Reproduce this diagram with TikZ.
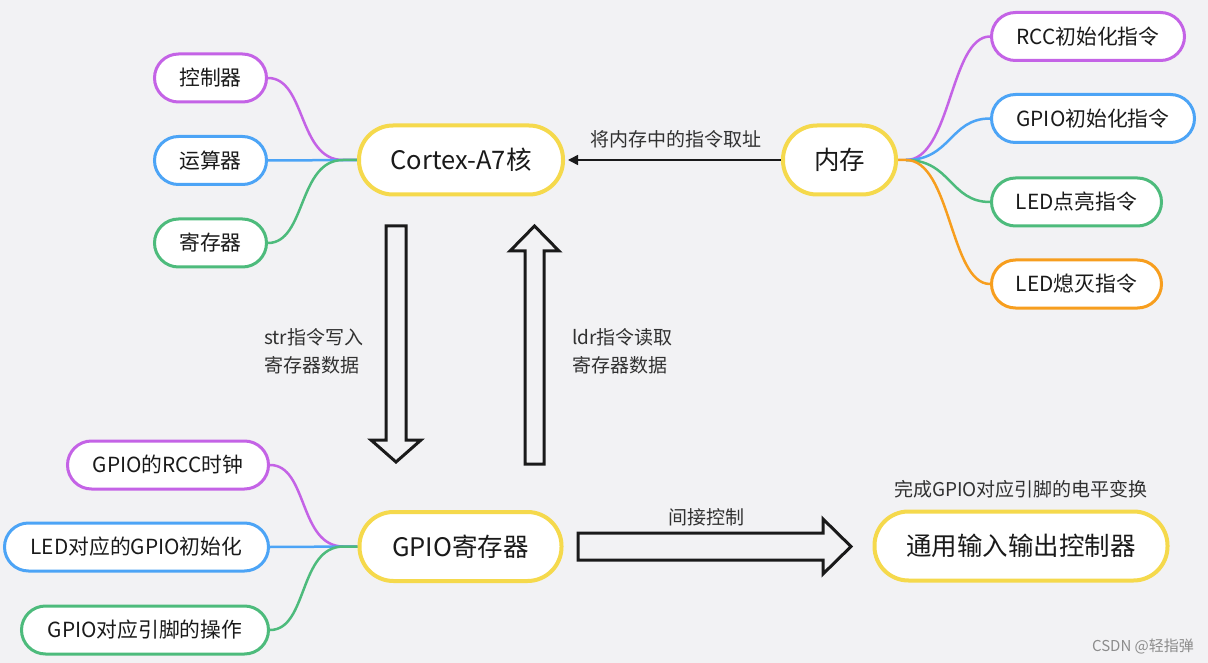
\documentclass[tikz,border=0pt]{standalone}
\usepackage{fontspec}
\setmainfont{Noto Sans CJK SC}
\usetikzlibrary{arrows.meta,backgrounds}
\definecolor{bg}{HTML}{F2F2F4}
\definecolor{cpurple}{HTML}{C463E6}
\definecolor{cblue}{HTML}{4CA4F6}
\definecolor{cgreen}{HTML}{4DBB7C}
\definecolor{corange}{HTML}{F79E1E}
\definecolor{cyellow}{HTML}{F5D94C}
\definecolor{ink}{HTML}{1A1A1A}
\begin{document}
\begin{tikzpicture}[x=1pt,y=-1pt,
  leaf/.style={draw=#1, line width=3pt, fill=white, rounded corners=24pt,
    minimum height=48pt, inner sep=0pt, text=ink, font=\fontsize{20.8}{24}\selectfont},
  mainnode/.style={draw=cyellow, line width=4pt, fill=white, rounded corners=34pt,
    minimum height=69pt, inner sep=0pt, text=ink, font=\fontsize{25.5}{30}\selectfont},
  branch/.style={draw=#1, line width=2.5pt},
  blk/.style={draw=ink, line width=3pt, fill=bg, line join=miter},
  lbl/.style={text=ink!90, font=\fontsize{19}{28}\selectfont, inner sep=0pt}
]
\useasboundingbox (0,0) rectangle (1208,663);

% main nodes
\node[mainnode, minimum width=204pt] (cortex) at (461,160) {Cortex-A7核};
\node[mainnode, minimum width=113pt] (mem) at (839.5,160) {内存};
\node[mainnode, minimum width=202pt] (greg) at (460.5,546.5) {GPIO寄存器};
\node[mainnode, minimum width=293pt] (gctl) at (1021,546) {通用输入输出控制器};

% left top leaves
\node[leaf=cpurple, minimum width=112pt] (ctl) at (210.5,78) {控制器};
\node[leaf=cblue, minimum width=112pt] (alu) at (210.5,160.5) {运算器};
\node[leaf=cgreen, minimum width=112pt] (reg) at (210.5,243) {寄存器};

% right leaves
\node[leaf=cpurple, minimum width=193pt] (rcc) at (1088,36.5) {RCC初始化指令};
\node[leaf=cblue, minimum width=203pt] (gpi) at (1093,118.5) {GPIO初始化指令};
\node[leaf=cgreen, minimum width=170pt] (ledon) at (1076.5,202) {LED点亮指令};
\node[leaf=corange, minimum width=170pt] (ledoff) at (1076.5,284) {LED熄灭指令};

% bottom left leaves
\node[leaf=cpurple, minimum width=201pt] (grcc) at (168,465) {GPIO的RCC时钟};
\node[leaf=cblue, minimum width=264pt] (gled) at (136.5,547) {LED对应的GPIO初始化};
\node[leaf=cgreen, minimum width=247pt] (gop) at (145,630) {GPIO对应引脚的操作};

\begin{scope}[on background layer]
  \fill[bg] (0,0) rectangle (1208,663);
  % top-left branches
  \draw[branch=cpurple] (ctl.east) .. controls +(38,0) and +(-45,0) .. ([xshift=-14pt]cortex.west) -- (cortex.west);
  \draw[branch=cblue] (alu.east) -- (cortex.west);
  \draw[branch=cgreen] (reg.east) .. controls +(38,0) and +(-45,0) .. ([xshift=-14pt]cortex.west) -- (cortex.west);
  % right branches
  \draw[branch=cpurple] ([xshift=8pt]mem.east) .. controls +(45,0) and +(-40,0) .. (rcc.west);
  \draw[branch=cblue] ([xshift=8pt]mem.east) .. controls +(45,0) and +(-40,0) .. (gpi.west);
  \draw[branch=cgreen] ([xshift=8pt]mem.east) .. controls +(45,0) and +(-40,0) .. (ledon.west);
  \draw[branch=corange] (mem.east) -- ([xshift=8pt]mem.east) .. controls +(45,0) and +(-40,0) .. (ledoff.west);
  % bottom-left branches
  \draw[branch=cpurple] (grcc.east) .. controls +(38,0) and +(-45,0) .. ([xshift=-14pt]greg.west) -- (greg.west);
  \draw[branch=cblue] (gled.east) -- (greg.west);
  \draw[branch=cgreen] (gop.east) .. controls +(38,0) and +(-45,0) .. ([xshift=-14pt]greg.west) -- (greg.west);
  % fetch arrow
  \draw[ink, line width=1.5pt, -{Triangle[length=10pt,width=10pt]}] (mem.west) -- ([xshift=3pt]cortex.east);
\end{scope}

\node[lbl] (fetch) at (676,139) {将内存中的指令取址};

% block arrows
\draw[blk] (386,226) -- (406,226) -- (406,440) -- (421,440) -- (396,462) -- (371,440) -- (386,440) -- cycle;
\draw[blk] (525,464) -- (544,464) -- (544,251) -- (559,251) -- (534.5,226) -- (510,251) -- (525,251) -- cycle;
\draw[blk] (578,533) -- (823,533) -- (823,519) -- (851,546.5) -- (823,574) -- (823,560) -- (578,560) -- cycle;

\node[lbl, anchor=west, align=left] (strl) at (264,351) {str指令写入\\寄存器数据};
\node[lbl, anchor=west, align=left] (ldrl) at (572,351) {ldr指令读取\\寄存器数据};
\node[lbl] (ind) at (706,517) {间接控制};
\node[lbl] (done) at (1021,489) {完成GPIO对应引脚的电平变换};
\node[text=black!45, font=\fontsize{15}{17}\selectfont, inner sep=0pt] (wm) at (1143,646) {CSDN @轻指弹};
\end{tikzpicture}
\end{document}
